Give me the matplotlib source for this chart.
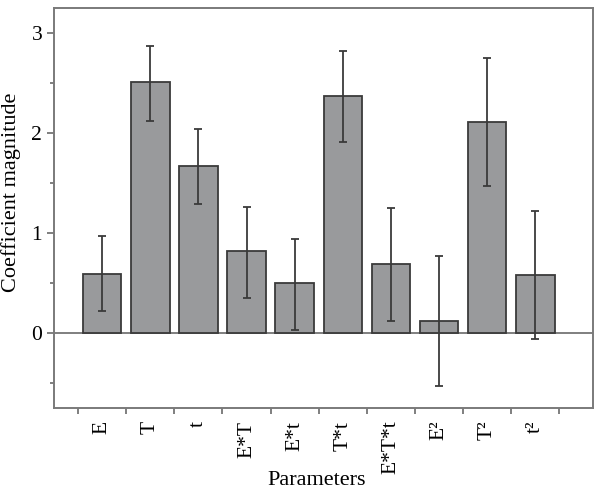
import numpy as np
import matplotlib
matplotlib.use("Agg")
from matplotlib import pyplot as plt
from matplotlib.ticker import MultipleLocator

params = ["E", "T", "t", "E*T", "E*t", "T*t", "E*T*t", "E²", "T²", "t²"]
coef = [0.59, 2.51, 1.67, 0.82, 0.50, 2.37, 0.69, 0.12, 2.11, 0.58]
err_hi = [0.97, 2.87, 2.04, 1.26, 0.94, 2.82, 1.25, 0.77, 2.75, 1.22]
err_lo = [0.22, 2.12, 1.29, 0.35, 0.03, 1.91, 0.12, -0.53, 1.47, -0.06]

coef = np.array(coef)
yerr = [coef - np.array(err_lo), np.array(err_hi) - coef]

plt.rcParams['font.family'] = ['Liberation Serif', 'DejaVu Serif']

fig = plt.figure(figsize=(5.96, 4.96), dpi=100)
ax = fig.add_axes([0.0906, 0.177, 0.9044, 0.807])

x = np.arange(len(params))
ax.bar(x, coef, width=0.8, color='#999a9c', edgecolor='#3a3a3a', linewidth=1.3, zorder=2)
ax.errorbar(x, coef, yerr=yerr, fmt='none', ecolor='#3a3a3a', elinewidth=1.3,
            capsize=3, capthick=1.3, zorder=3)
ax.axhline(0, color='#6a6a6a', linewidth=1.2, zorder=1)

ax.set_xlim(-1.0, 10.2)
ax.set_ylim(-0.75, 3.25)

ax.set_xticks(x)
ax.set_xticklabels(params, rotation=90, fontsize=15.5)
ax.set_xticks(np.arange(-0.5, 10, 1), minor=True)
ax.tick_params(axis='x', which='major', length=0, pad=9)
ax.tick_params(axis='x', which='minor', length=4, width=1.2, color='#6a6a6a', direction='out')

ax.set_yticks([0, 1, 2, 3])
ax.yaxis.set_minor_locator(MultipleLocator(0.5))
ax.tick_params(axis='y', which='major', length=5, width=1.2, color='#6a6a6a', labelsize=15.5)
ax.tick_params(axis='y', which='minor', length=3, width=1.2, color='#6a6a6a')

for s in ax.spines.values():
    s.set_color('#7a7a7a')
    s.set_linewidth(1.4)

ax.set_ylabel('Coefficient magnitude', fontsize=16)
ax.yaxis.set_label_coords(-0.062, 0.54)
ax.set_xlabel('Parameters', fontsize=16, va='top')
ax.xaxis.set_label_coords(0.488, -0.158)

fig.savefig("out.png", dpi=100)
